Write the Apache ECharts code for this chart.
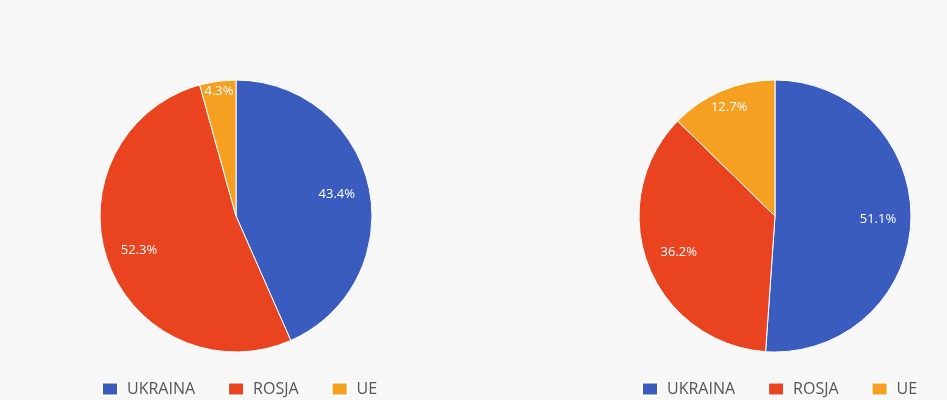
<!DOCTYPE html>
<html>
<head>
<meta charset="utf-8">
<script src="https://cdn.jsdelivr.net/npm/echarts@6/dist/echarts.min.js"></script>
<style>
html,body{margin:0;padding:0;background:#f7f7f7;}
#chart{width:947px;height:400px;}
</style>
</head>
<body>
<div id="chart"></div>
<script>
const categories = ['UKRAINA', 'ROSJA', 'UE'];
const valuesLeft = [43.4, 52.3, 4.3];
const valuesRight = [51.1, 36.2, 12.7];
const colors = ['#3a5cbf', '#e9441f', '#f5a021'];

const chart = echarts.init(document.getElementById('chart'));
const FONT = '"Open Sans", "Noto Sans", sans-serif';

function mainPie(center, values) {
  return {
    type: 'pie', center: center, radius: [0, 136], startAngle: 90, clockwise: true,
    label: {show: false}, labelLine: {show: false}, silent: true,
    itemStyle: {borderColor: '#ffffff', borderWidth: 1},
    data: categories.map((c, i) => ({name: c, value: values[i], itemStyle: {color: colors[i]}}))
  };
}
function labelPie(center, values, r0, showIdx) {
  return {
    type: 'pie', center: center, radius: [r0, 136], startAngle: 90, clockwise: true,
    silent: true, labelLine: {show: false},
    itemStyle: {color: 'rgba(0,0,0,0)', borderWidth: 0},
    emphasis: {disabled: true},
    data: categories.map((c, i) => ({
      name: c, value: values[i],
      label: {show: showIdx.indexOf(i) >= 0}
    })),
    label: {
      position: 'inside', color: '#ffffff', fontSize: 13, fontFamily: FONT,
      formatter: p => p.value.toFixed(1) + '%'
    }
  };
}
function legend(left) {
  return {
    left: left, top: 376, orient: 'horizontal', itemWidth: 16, itemHeight: 13, itemGap: 32,
    icon: 'rect', selectedMode: false,
    textStyle: {color: '#555555', fontSize: 16, fontFamily: FONT, padding: [0, 0, 0, 4]},
    data: categories.map((c, i) => ({name: c, itemStyle: {color: colors[i]}}))
  };
}

chart.setOption({
  backgroundColor: '#f7f7f7',
  animation: false,
  legend: [legend(96), legend(636)],
  series: [
    mainPie([236, 216], valuesLeft),
    labelPie([236, 216], valuesLeft, 64, [0, 1]),
    labelPie([236, 216], valuesLeft, 110, [2]),
    mainPie([775, 216], valuesRight),
    labelPie([775, 216], valuesRight, 64, [0, 1]),
    labelPie([775, 216], valuesRight, 94, [2])
  ]
});
</script>
</body>
</html>
